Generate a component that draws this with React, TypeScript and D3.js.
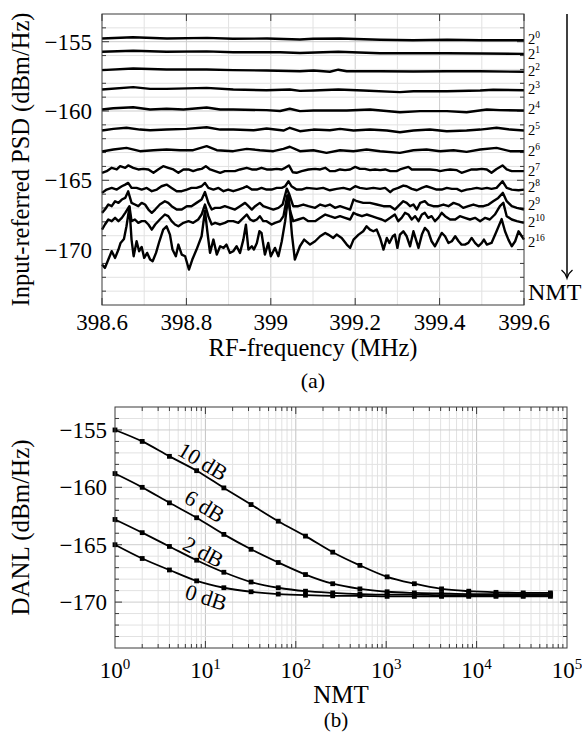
import React from 'react';
import * as d3 from 'd3';

const FONT = "'Liberation Serif', 'DejaVu Serif', serif";

// ---------- Chart (a): PSD vs RF frequency ----------
const F0 = 398.6;
const freqTicks = [398.6, 398.8, 399, 399.2, 399.4, 399.6];
const freqTickLabels = ['398.6', '398.8', '399', '399.2', '399.4', '399.6'];
const psdTicks = [-155, -160, -165, -170];
const nmtExponents = ['0', '1', '2', '3', '4', '5', '6', '7', '8', '9', '10', '16'];
const labelLevels = [-154.82, -155.87, -157.08, -158.4, -159.89, -161.39, -162.9, -164.3, -165.5, -166.75, -168.0, -169.45];

// each point: [frequency offset from 398.6 MHz, PSD dBm/Hz]
const psdN0 = [[0, -154.77], [0.073, -154.68], [0.154, -154.77], [0.249, -154.72], [0.31, -154.79], [0.391, -154.77], [0.469, -154.84], [0.5, -154.79], [0.564, -154.77], [0.659, -154.86], [0.737, -154.89], [0.818, -154.86], [0.896, -154.89], [1, -154.89]];
const psdN1 = [[0, -155.72], [0.074, -155.65], [0.153, -155.72], [0.248, -155.7], [0.311, -155.76], [0.422, -155.76], [0.469, -155.81], [0.56, -155.72], [0.659, -155.83], [0.738, -155.83], [0.817, -155.83], [0.9, -155.85], [1, -155.88]];
const psdN2 = [[0, -157.05], [0.074, -156.93], [0.153, -157.0], [0.248, -157.0], [0.311, -157.05], [0.39, -157.08], [0.469, -157.13], [0.501, -157.08], [0.54, -157.17], [0.56, -157.02], [0.58, -157.13], [0.659, -157.13], [0.738, -157.15], [0.817, -157.13], [0.896, -157.13], [1, -157.17]];
const psdN3 = [[0, -158.45], [0.074, -158.28], [0.114, -158.4], [0.153, -158.4], [0.248, -158.33], [0.311, -158.45], [0.39, -158.5], [0.445, -158.45], [0.469, -158.55], [0.501, -158.52], [0.56, -158.45], [0.619, -158.52], [0.706, -158.64], [0.738, -158.57], [0.817, -158.57], [0.896, -158.52], [0.927, -158.47], [1, -158.5]];
const psdN4 = [[0, -159.89], [0.027, -159.8], [0.074, -159.73], [0.114, -159.89], [0.153, -159.84], [0.193, -159.89], [0.248, -159.75], [0.28, -159.89], [0.311, -159.89], [0.39, -159.94], [0.422, -160.0], [0.445, -159.84], [0.469, -160.01], [0.501, -159.96], [0.54, -159.96], [0.58, -159.96], [0.635, -159.89], [0.706, -160.09], [0.754, -160.01], [0.817, -160.01], [0.864, -160.09], [0.912, -159.89], [0.943, -159.94], [1, -159.96]];
const psdN5 = [[0, -161.41], [0.027, -161.29], [0.058, -161.21], [0.09, -161.34], [0.114, -161.39], [0.153, -161.34], [0.201, -161.29], [0.248, -161.17], [0.28, -161.34], [0.311, -161.34], [0.359, -161.39], [0.39, -161.26], [0.43, -161.41], [0.445, -161.21], [0.469, -161.46], [0.501, -161.34], [0.54, -161.39], [0.564, -161.29], [0.596, -161.41], [0.635, -161.34], [0.675, -161.41], [0.706, -161.53], [0.738, -161.41], [0.777, -161.34], [0.817, -161.46], [0.864, -161.41], [0.896, -161.34], [0.935, -161.21], [0.967, -161.34], [1, -161.41]];
const psdN6 = [[0, -162.92], [0.027, -162.78], [0.058, -162.66], [0.09, -162.9], [0.122, -162.83], [0.153, -162.78], [0.185, -162.83], [0.216, -162.83], [0.248, -162.54], [0.272, -162.83], [0.311, -162.9], [0.343, -162.73], [0.374, -162.83], [0.406, -162.9], [0.43, -162.73], [0.445, -162.58], [0.469, -162.9], [0.501, -162.83], [0.532, -163.02], [0.564, -162.83], [0.596, -162.9], [0.627, -162.78], [0.659, -162.9], [0.706, -163.02], [0.738, -162.83], [0.769, -162.78], [0.801, -162.9], [0.833, -162.83], [0.864, -162.95], [0.896, -162.78], [0.935, -162.66], [0.967, -162.9], [1, -162.9]];
const psdN7 = [[0, -164.46], [0.011, -164.34], [0.023, -164.1], [0.035, -164.22], [0.043, -163.98], [0.055, -164.1], [0.062, -163.93], [0.074, -164.1], [0.086, -164.22], [0.098, -164.18], [0.11, -164.22], [0.122, -164.46], [0.133, -164.22], [0.145, -163.98], [0.157, -164.1], [0.169, -164.22], [0.181, -164.46], [0.193, -164.22], [0.205, -164.22], [0.216, -164.34], [0.228, -164.22], [0.236, -164.18], [0.246, -163.98], [0.256, -164.22], [0.268, -164.34], [0.28, -164.46], [0.291, -164.34], [0.303, -164.34], [0.315, -164.34], [0.327, -164.22], [0.343, -164.1], [0.355, -164.22], [0.367, -164.22], [0.378, -164.1], [0.39, -164.22], [0.402, -164.22], [0.414, -164.18], [0.426, -164.22], [0.434, -164.1], [0.443, -163.93], [0.452, -164.42], [0.461, -164.46], [0.473, -164.34], [0.489, -164.22], [0.505, -164.18], [0.517, -164.22], [0.529, -164.1], [0.54, -164.34], [0.552, -164.34], [0.564, -164.22], [0.576, -164.27], [0.588, -164.22], [0.6, -164.03], [0.611, -164.18], [0.623, -164.18], [0.635, -164.27], [0.647, -164.22], [0.659, -164.27], [0.671, -164.22], [0.683, -164.34], [0.698, -164.34], [0.706, -164.22], [0.718, -164.1], [0.726, -164.03], [0.734, -164.22], [0.746, -164.22], [0.762, -164.22], [0.777, -164.22], [0.793, -164.27], [0.801, -164.34], [0.813, -164.27], [0.825, -164.22], [0.841, -164.27], [0.852, -164.46], [0.864, -164.34], [0.876, -164.22], [0.888, -164.22], [0.9, -164.18], [0.912, -164.22], [0.923, -164.46], [0.935, -164.18], [0.949, -163.93], [0.959, -164.22], [0.971, -164.34], [0.983, -164.34], [1, -164.34]];
const psdN8 = [[0, -165.91], [0.011, -165.67], [0.023, -165.55], [0.035, -165.67], [0.047, -165.43], [0.055, -165.31], [0.062, -165.19], [0.07, -165.55], [0.082, -165.55], [0.094, -165.67], [0.106, -165.55], [0.118, -165.79], [0.13, -165.67], [0.141, -165.43], [0.153, -165.31], [0.165, -165.55], [0.177, -165.79], [0.189, -165.79], [0.201, -165.67], [0.212, -165.55], [0.224, -165.55], [0.236, -165.43], [0.244, -165.19], [0.252, -165.55], [0.264, -165.67], [0.276, -165.55], [0.288, -165.79], [0.299, -165.67], [0.311, -165.79], [0.323, -165.67], [0.335, -165.55], [0.343, -165.43], [0.355, -165.67], [0.367, -165.67], [0.378, -165.55], [0.39, -165.67], [0.402, -165.67], [0.414, -165.55], [0.426, -165.55], [0.434, -165.43], [0.442, -165.07], [0.449, -165.43], [0.461, -165.67], [0.473, -165.67], [0.485, -165.55], [0.509, -165.62], [0.524, -165.55], [0.54, -165.72], [0.556, -165.62], [0.572, -165.55], [0.588, -165.67], [0.6, -165.43], [0.611, -165.55], [0.627, -165.62], [0.643, -165.55], [0.659, -165.62], [0.671, -165.55], [0.683, -165.86], [0.69, -165.67], [0.702, -165.55], [0.714, -165.38], [0.722, -165.43], [0.734, -165.62], [0.746, -165.72], [0.758, -165.55], [0.769, -165.43], [0.781, -165.55], [0.793, -165.67], [0.805, -165.67], [0.817, -165.55], [0.829, -165.62], [0.841, -165.62], [0.852, -165.79], [0.864, -165.67], [0.876, -165.62], [0.888, -165.55], [0.9, -165.62], [0.912, -165.55], [0.923, -165.62], [0.935, -165.55], [0.949, -165.07], [0.959, -165.55], [0.971, -165.67], [0.987, -165.72], [1, -165.67]];
const psdN9 = [[0, -167.35], [0.007, -167.11], [0.015, -166.75], [0.023, -166.87], [0.031, -166.51], [0.039, -166.63], [0.047, -166.39], [0.055, -166.27], [0.062, -165.8], [0.07, -166.63], [0.078, -166.75], [0.086, -166.87], [0.094, -166.63], [0.102, -166.75], [0.11, -167.11], [0.118, -167.35], [0.126, -167.11], [0.137, -166.75], [0.149, -166.51], [0.157, -166.63], [0.165, -166.87], [0.177, -167.11], [0.189, -167.11], [0.201, -166.87], [0.212, -166.87], [0.224, -166.63], [0.236, -166.39], [0.244, -165.85], [0.252, -166.63], [0.26, -167.11], [0.268, -166.99], [0.28, -166.99], [0.291, -166.87], [0.303, -166.99], [0.315, -167.11], [0.327, -166.87], [0.339, -166.63], [0.347, -166.87], [0.355, -167.11], [0.363, -166.87], [0.374, -166.63], [0.382, -166.87], [0.394, -166.99], [0.406, -167.11], [0.418, -166.99], [0.428, -166.75], [0.438, -165.6], [0.444, -166.03], [0.453, -166.87], [0.465, -166.87], [0.477, -166.75], [0.489, -166.87], [0.505, -166.99], [0.517, -166.75], [0.529, -166.87], [0.54, -166.75], [0.552, -166.99], [0.564, -166.87], [0.576, -166.99], [0.588, -167.11], [0.596, -166.39], [0.604, -166.51], [0.619, -166.63], [0.635, -166.63], [0.651, -166.75], [0.667, -166.87], [0.683, -166.87], [0.694, -167.11], [0.702, -166.87], [0.714, -166.51], [0.722, -166.63], [0.73, -166.87], [0.738, -166.75], [0.746, -167.11], [0.754, -166.63], [0.765, -166.51], [0.773, -166.75], [0.785, -166.87], [0.797, -166.87], [0.809, -166.75], [0.821, -166.87], [0.833, -166.63], [0.845, -166.75], [0.856, -166.99], [0.868, -166.87], [0.88, -166.75], [0.892, -166.87], [0.904, -166.87], [0.916, -166.75], [0.927, -166.51], [0.939, -166.27], [0.95, -165.91], [0.959, -166.51], [0.971, -166.87], [0.983, -166.99], [1, -167.11]];
const psdN10 = [[0, -168.56], [0.007, -168.19], [0.015, -167.83], [0.023, -167.95], [0.031, -167.71], [0.039, -167.95], [0.047, -167.71], [0.055, -167.35], [0.065, -166.87], [0.07, -167.95], [0.078, -167.83], [0.086, -168.07], [0.094, -167.95], [0.102, -167.95], [0.11, -168.19], [0.118, -168.56], [0.126, -168.19], [0.137, -167.83], [0.149, -167.47], [0.157, -167.59], [0.165, -167.95], [0.173, -168.19], [0.181, -168.32], [0.193, -168.07], [0.205, -167.95], [0.216, -168.07], [0.228, -167.83], [0.236, -167.47], [0.244, -166.75], [0.252, -167.59], [0.26, -168.19], [0.268, -168.07], [0.28, -168.19], [0.291, -168.07], [0.299, -167.95], [0.311, -167.95], [0.323, -168.07], [0.335, -167.71], [0.343, -167.47], [0.351, -167.83], [0.359, -167.95], [0.367, -167.83], [0.374, -167.59], [0.382, -167.95], [0.39, -167.95], [0.402, -168.19], [0.41, -168.07], [0.422, -167.95], [0.43, -167.59], [0.439, -166.1], [0.446, -167.23], [0.453, -167.95], [0.465, -167.83], [0.477, -167.71], [0.489, -167.95], [0.505, -167.95], [0.517, -167.71], [0.529, -167.47], [0.54, -167.59], [0.552, -167.71], [0.564, -167.59], [0.576, -167.71], [0.588, -167.83], [0.596, -167.35], [0.604, -167.47], [0.616, -167.59], [0.627, -167.47], [0.639, -167.59], [0.651, -167.71], [0.663, -167.83], [0.671, -167.95], [0.683, -167.71], [0.694, -167.47], [0.702, -167.95], [0.71, -167.71], [0.718, -167.35], [0.726, -167.47], [0.734, -167.83], [0.742, -167.59], [0.75, -167.95], [0.758, -167.47], [0.765, -167.35], [0.773, -167.71], [0.781, -167.59], [0.789, -167.95], [0.797, -167.71], [0.805, -167.35], [0.813, -167.59], [0.825, -167.83], [0.837, -167.83], [0.848, -167.59], [0.86, -167.71], [0.872, -167.83], [0.884, -167.71], [0.896, -167.95], [0.908, -167.71], [0.919, -167.83], [0.931, -167.47], [0.943, -166.87], [0.951, -166.63], [0.959, -167.59], [0.971, -167.83], [0.983, -167.95], [1, -168.07]];
const psdN16 = [[0, -171.08], [0.007, -171.32], [0.015, -170.72], [0.023, -170.12], [0.031, -170.6], [0.039, -170.0], [0.044, -169.52], [0.052, -169.23], [0.058, -168.32], [0.065, -166.95], [0.07, -169.28], [0.075, -170.48], [0.082, -169.4], [0.088, -170.12], [0.094, -169.81], [0.1, -170.6], [0.107, -170.24], [0.114, -170.72], [0.12, -170.84], [0.128, -170.24], [0.136, -169.4], [0.145, -168.56], [0.153, -168.32], [0.161, -168.92], [0.167, -170.0], [0.175, -170.48], [0.181, -169.64], [0.189, -170.36], [0.197, -170.48], [0.206, -171.44], [0.214, -170.72], [0.224, -170.0], [0.236, -169.04], [0.244, -167.2], [0.25, -168.8], [0.256, -170.24], [0.264, -169.28], [0.272, -170.36], [0.28, -169.76], [0.288, -169.88], [0.295, -169.64], [0.303, -170.24], [0.311, -170.12], [0.319, -169.76], [0.327, -170.24], [0.335, -169.28], [0.341, -168.2], [0.347, -170.0], [0.355, -169.76], [0.36, -170.0], [0.367, -169.52], [0.373, -168.68], [0.378, -168.8], [0.386, -170.36], [0.394, -169.52], [0.4, -170.48], [0.41, -169.88], [0.418, -170.48], [0.426, -169.4], [0.434, -167.95], [0.442, -166.0], [0.45, -168.9], [0.457, -170.72], [0.469, -169.76], [0.479, -169.28], [0.493, -169.64], [0.505, -169.4], [0.517, -169.04], [0.529, -168.8], [0.536, -168.92], [0.548, -169.16], [0.556, -168.92], [0.568, -169.16], [0.58, -169.64], [0.588, -169.88], [0.596, -169.28], [0.608, -168.92], [0.619, -168.68], [0.627, -168.32], [0.635, -168.56], [0.643, -168.68], [0.651, -168.56], [0.659, -169.16], [0.667, -170.0], [0.675, -169.16], [0.681, -169.52], [0.689, -169.04], [0.694, -168.92], [0.7, -169.88], [0.706, -168.92], [0.714, -168.68], [0.722, -169.04], [0.73, -169.76], [0.738, -168.68], [0.744, -169.28], [0.75, -169.88], [0.758, -168.92], [0.765, -168.44], [0.773, -168.68], [0.781, -169.4], [0.789, -169.76], [0.797, -169.28], [0.805, -168.8], [0.813, -169.04], [0.821, -169.52], [0.829, -169.4], [0.837, -169.04], [0.845, -169.4], [0.852, -169.64], [0.86, -169.64], [0.868, -169.52], [0.876, -169.16], [0.884, -169.52], [0.892, -169.76], [0.9, -169.52], [0.905, -169.28], [0.912, -169.64], [0.923, -169.52], [0.935, -168.68], [0.947, -167.8], [0.955, -168.68], [0.963, -169.28], [0.971, -169.76], [0.979, -169.4], [0.987, -168.68], [1, -169.28]];
const psdSeries = [psdN0, psdN1, psdN2, psdN3, psdN4, psdN5, psdN6, psdN7, psdN8, psdN9, psdN10, psdN16];

// ---------- Chart (b): DANL vs NMT ----------
const nmtValues = [1, 2, 4, 8, 16, 32, 64, 128, 256, 512, 1024, 2048, 4096, 8192, 16384, 32768, 65536];
const danl10dB = [-155.0, -156.0, -157.3, -158.55, -160.05, -161.5, -162.95, -164.25, -165.65, -166.8, -167.8, -168.4, -168.85, -169.05, -169.15, -169.2, -169.2];
const danl6dB = [-158.8, -160.0, -161.35, -162.65, -164.1, -165.4, -166.55, -167.6, -168.4, -168.85, -169.1, -169.2, -169.25, -169.3, -169.3, -169.3, -169.3];
const danl2dB = [-162.8, -163.95, -165.15, -166.35, -167.4, -168.25, -168.75, -169.05, -169.2, -169.3, -169.35, -169.35, -169.4, -169.4, -169.4, -169.4, -169.4];
const danl0dB = [-165.0, -166.2, -167.2, -168.15, -168.75, -169.1, -169.3, -169.4, -169.45, -169.45, -169.5, -169.5, -169.5, -169.5, -169.5, -169.5, -169.5];
const danlSeries = [danl10dB, danl6dB, danl2dB, danl0dB];
const danlLabels = ['10 dB', '6 dB', '2 dB', '0 dB'];
const danlLabelNmt = [8.5, 8.9, 8.7, 9.6];
const danlLabelLevel = [-157.7, -161.6, -165.6, -169.6];
const danlLabelAngle = [31, 31, 28, 18];
const decadeExps = [0, 1, 2, 3, 4, 5];
const danlTicks = [-155, -160, -165, -170];

export default function App() {
  const xA = d3.scaleLinear().domain([398.6, 399.6]).range([102, 524]);
  const yA = d3.scaleLinear().domain([-174, -153]).range([305, 14]);
  const xB = d3.scaleLog().domain([1, 1e5]).range([115, 567]);
  const yB = d3.scaleLinear().domain([-174, -153]).range([648, 407]);

  const lineA = d3.line<number[]>().x((d) => xA(F0 + d[0])).y((d) => yA(d[1]));
  const lineB = d3.line<[number, number]>().x((d) => xB(d[0])).y((d) => yB(d[1])).curve(d3.curveMonotoneX);

  const dbRange = d3.range(-173, -153);
  const freqGrid = d3.range(1, 10).map((i) => 398.6 + i * 0.1);
  const logMinor: number[] = [];
  for (let e = 0; e < 5; e++) for (let m = 2; m <= 9; m++) logMinor.push(m * Math.pow(10, e));
  const logMajor = [10, 100, 1000, 10000];

  const grid = '#e2e2e2';
  const gridMajor = '#cdcdcd';
  const axisCol = '#3a3a3a';

  return (
    <svg width={582} height={735} style={{ position: 'absolute', left: 0, top: 0, background: '#fff', fontFamily: FONT }}>
      {/* ===== Chart (a) ===== */}
      <g>
        {freqGrid.map((f, i) => (
          <line key={'vg' + i} x1={xA(f)} x2={xA(f)} y1={yA(-153)} y2={yA(-174)} stroke={i % 2 === 1 ? gridMajor : grid} strokeWidth={1} />
        ))}
        {dbRange.map((v) => (
          <line key={'hg' + v} x1={xA(398.6)} x2={xA(399.6)} y1={yA(v)} y2={yA(v)} stroke={v % 5 === 0 ? gridMajor : grid} strokeWidth={1} />
        ))}
        {freqTicks.map((f, i) => (
          <g key={'ft' + i}>
            <line x1={xA(f)} x2={xA(f)} y1={yA(-174)} y2={yA(-174) - 7} stroke={axisCol} />
            <line x1={xA(f)} x2={xA(f)} y1={yA(-153)} y2={yA(-153) + 7} stroke={axisCol} />
          </g>
        ))}
        {dbRange.map((v) => {
          const len = v % 5 === 0 ? 7 : 4;
          return (
            <g key={'yt' + v}>
              <line x1={xA(398.6)} x2={xA(398.6) + len} y1={yA(v)} y2={yA(v)} stroke={axisCol} />
              <line x1={xA(399.6)} x2={xA(399.6) - len} y1={yA(v)} y2={yA(v)} stroke={axisCol} />
            </g>
          );
        })}
        {psdSeries.map((s, i) => (
          <path key={'psd' + i} d={lineA(s) || ''} fill="none" stroke="#000" strokeWidth={2.4} strokeLinejoin="round" />
        ))}
        <rect x={xA(398.6)} y={yA(-153)} width={xA(399.6) - xA(398.6)} height={yA(-174) - yA(-153)} fill="none" stroke={axisCol} strokeWidth={1} />
        {freqTicks.map((f, i) => (
          <text key={'fl' + i} x={xA(f)} y={330} fontSize={23} textAnchor="middle">{freqTickLabels[i]}</text>
        ))}
        {psdTicks.map((v) => (
          <text key={'pl' + v} x={92} y={yA(v) + 8} fontSize={23} textAnchor="end">{'\u2212' + Math.abs(v)}</text>
        ))}
        <text x={313} y={356} fontSize={24.5} textAnchor="middle">RF-frequency (MHz)</text>
        <text transform={`translate(29,${(yA(-153) + yA(-174)) / 2}) rotate(-90)`} fontSize={24.5} textAnchor="middle">Input-referred PSD (dBm/Hz)</text>
        {nmtExponents.map((e, i) => (
          <text key={'nl' + i} x={528} y={yA(labelLevels[i]) + 5} fontSize={14.5}>
            2<tspan fontSize={9.5} dy={-6}>{e}</tspan>
          </text>
        ))}
        <line x1={567} x2={567} y1={14} y2={277} stroke="#000" strokeWidth={1.5} />
        <path d="M561.5,270 Q565.5,273 567,278 Q568.5,273 572.5,270" fill="none" stroke="#000" strokeWidth={1.4} />
        <text x={528} y={300} fontSize={24}>NMT</text>
        <text x={313} y={388} fontSize={22} textAnchor="middle">(a)</text>
      </g>

      {/* ===== Chart (b) ===== */}
      <g>
        {logMinor.map((n, i) => (
          <line key={'bvg' + i} x1={xB(n)} x2={xB(n)} y1={yB(-153)} y2={yB(-174)} stroke={grid} strokeWidth={1} />
        ))}
        {logMajor.map((n, i) => (
          <line key={'bvm' + i} x1={xB(n)} x2={xB(n)} y1={yB(-153)} y2={yB(-174)} stroke="#c2c2c2" strokeWidth={1} />
        ))}
        {dbRange.map((v) => (
          <line key={'bhg' + v} x1={xB(1)} x2={xB(1e5)} y1={yB(v)} y2={yB(v)} stroke={v % 5 === 0 ? gridMajor : grid} strokeWidth={1} />
        ))}
        {logMinor.map((n, i) => (
          <g key={'bxt' + i}>
            <line x1={xB(n)} x2={xB(n)} y1={yB(-174)} y2={yB(-174) - 4} stroke={axisCol} />
            <line x1={xB(n)} x2={xB(n)} y1={yB(-153)} y2={yB(-153) + 4} stroke={axisCol} />
          </g>
        ))}
        {logMajor.map((n, i) => (
          <g key={'bxm' + i}>
            <line x1={xB(n)} x2={xB(n)} y1={yB(-174)} y2={yB(-174) - 7} stroke={axisCol} />
            <line x1={xB(n)} x2={xB(n)} y1={yB(-153)} y2={yB(-153) + 7} stroke={axisCol} />
          </g>
        ))}
        {dbRange.map((v) => {
          const len = v % 5 === 0 ? 7 : 4;
          return (
            <g key={'byt' + v}>
              <line x1={xB(1)} x2={xB(1) + len} y1={yB(v)} y2={yB(v)} stroke={axisCol} />
              <line x1={xB(1e5)} x2={xB(1e5) - len} y1={yB(v)} y2={yB(v)} stroke={axisCol} />
            </g>
          );
        })}
        {danlSeries.map((s, i) => {
          const pts = nmtValues.map((n, j) => [n, s[j]] as [number, number]);
          return (
            <g key={'danl' + i}>
              <path d={lineB(pts) || ''} fill="none" stroke="#000" strokeWidth={1.8} />
              {pts.map((p, j) => (
                <rect key={j} x={xB(p[0]) - 2.4} y={yB(p[1]) - 2.4} width={4.8} height={4.8} fill="#000" />
              ))}
            </g>
          );
        })}
        <rect x={xB(1)} y={yB(-153)} width={xB(1e5) - xB(1)} height={yB(-174) - yB(-153)} fill="none" stroke={axisCol} strokeWidth={1} />
        {danlLabels.map((t, i) => (
          <text key={'dl' + i} transform={`translate(${xB(danlLabelNmt[i])},${yB(danlLabelLevel[i]) + 7}) rotate(${danlLabelAngle[i]})`} fontSize={22} textAnchor="middle">{t}</text>
        ))}
        {decadeExps.map((e) => (
          <text key={'dx' + e} x={xB(Math.pow(10, e))} y={678} fontSize={23} textAnchor="middle">
            10<tspan fontSize={15} dy={-9}>{e}</tspan>
          </text>
        ))}
        {danlTicks.map((v) => (
          <text key={'dy' + v} x={107} y={yB(v) + 8} fontSize={23} textAnchor="end">{'\u2212' + Math.abs(v)}</text>
        ))}
        <text x={341} y={703} fontSize={25} textAnchor="middle">NMT</text>
        <text transform={`translate(29,${(yB(-153) + yB(-174)) / 2}) rotate(-90)`} fontSize={25} textAnchor="middle">DANL (dBm/Hz)</text>
        <text x={336} y={727} fontSize={21} textAnchor="middle">(b)</text>
      </g>
    </svg>
  );
}
